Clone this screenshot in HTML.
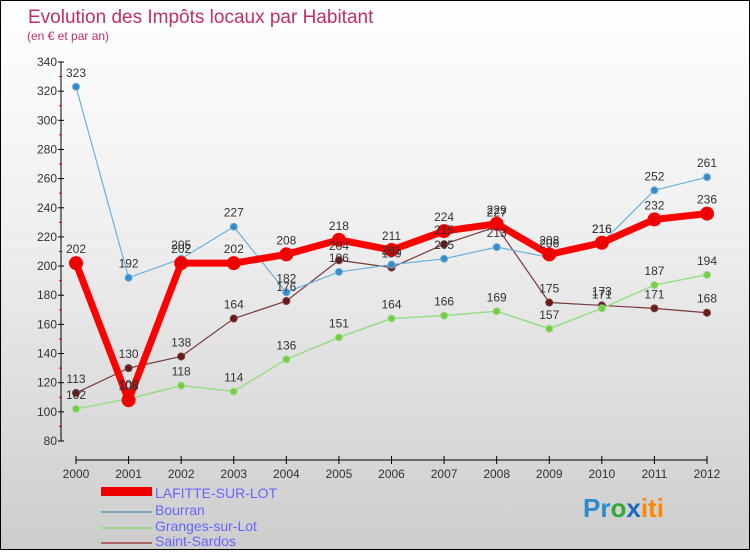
<!DOCTYPE html>
<html><head><meta charset="utf-8"><style>
body{margin:0;width:750px;height:550px;overflow:hidden;font-family:"Liberation Sans",sans-serif}
#c{position:absolute;left:0;top:0;width:748px;height:548px;border:1px solid #000;background:linear-gradient(#fff,#f0f0f0 40%,#cdcdcd)}
</style></head><body>
<div id="c">
<svg id="s" width="748" height="548">
<text x="27" y="22" font-size="19" fill="#c03060">Evolution des Impôts locaux par Habitant</text>
<text x="26" y="39" font-size="12" fill="#c03060">(en € et par an)</text>
<g id="ax"></g><g id="ser"></g><g id="lab"></g>
<g>
<rect x="100" y="486" width="51" height="9" fill="#e00"/>
<text x="154" y="497" font-size="14" fill="#66f">LAFITTE-SUR-LOT</text>
<rect x="100" y="510" width="51" height="2" fill="#7ab"/>
<text x="154" y="514" font-size="14" fill="#66f">Bourran</text>
<rect x="100" y="526" width="51" height="2" fill="#9d8"/>
<text x="154" y="530" font-size="14" fill="#66f">Granges-sur-Lot</text>
<rect x="100" y="541" width="51" height="2" fill="#a66"/>
<text x="154" y="545" font-size="14" fill="#66f">Saint-Sardos</text>
</g>
<text x="582" y="516" font-size="26" font-weight="bold"><tspan fill="#2a8ad0">Pr</tspan><tspan fill="#3a3">o</tspan><tspan fill="#1a6ac0">x</tspan><tspan fill="#f80">iti</tspan></text>
</svg></div>
<script>
const years=[2000,2001,2002,2003,2004,2005,2006,2007,2008,2009,2010,2011,2012];
const yTicks=[80,100,120,140,160,180,200,220,240,260,280,300,320,340];
const lafitte=[202,108,202,202,208,218,211,224,229,208,216,232,236];
const bourran=[323,192,205,227,182,196,201,205,213,206,216,252,261];
const granges=[102,109,118,114,136,151,164,166,169,157,171,187,194];
const sardos=[113,130,138,164,176,204,199,215,227,175,173,171,168];
const NS="http://www.w3.org/2000/svg";
const X=i=>75+i*(706-75)/12, Y=v=>440-(v-80)*(379/260);
function mk(p,t,a){const e=document.createElementNS(NS,t);for(const k in a)e.setAttribute(k,a[k]);p.appendChild(e);return e;}
const ax=document.getElementById('ax');
let e=mk(ax,'line',{x1:60,y1:61,x2:60,y2:440,stroke:'#000'});


e=mk(ax,'line',{x1:75,y1:459,x2:706,y2:459,stroke:'#000'});


yTicks.forEach((v,i)=>{
 mk(ax,'line',{x1:57,y1:Y(v),x2:63,y2:Y(v),stroke:'#000'});
 if(i<yTicks.length-1) mk(ax,'line',{x1:58,y1:Y(v+10),x2:61,y2:Y(v+10),stroke:'#e00'});
 const t=mk(ax,'text',{x:56,y:Y(v)+4,'font-size':12,fill:'#333','text-anchor':'end'});
 t.textContent=v;
 
 
});
years.forEach((y,i)=>{
 mk(ax,'line',{x1:X(i),y1:455,x2:X(i),y2:463,stroke:'#000'});
 const t=mk(ax,'text',{x:X(i),y:477,'font-size':12,fill:'#333','text-anchor':'middle'});
 t.textContent=y;
 
 
});
const ser=document.getElementById('ser'),lab=document.getElementById('lab');
function draw(d,name,col,dot,w,r){
 const g=mk(ser,'g',{});
 
 
 const pl=mk(g,'polyline',{points:d.map((v,i)=>X(i)+','+Y(v)).join(' '),fill:'none',stroke:col,'stroke-width':w,'stroke-linejoin':'round'});
 
 
 d.forEach((v,i)=>{
  const c=mk(g,'circle',{cx:X(i),cy:Y(v),r:r,fill:dot,stroke:col,'stroke-width':1});
  
  
  const t=mk(lab,'text',{x:X(i),y:Y(v)-10,'font-size':12,fill:'#333','text-anchor':'middle'});
  t.textContent=v;
  
  
 });
}
draw(sardos,'saint-sardos','#7a3a3a','#6a1a1a',1.2,3.5);
draw(granges,'granges','#9d8','#7c4',1.5,3.5);
draw(bourran,'bourran','#6ab0dd','#3a8acb',1.2,3.5);
draw(lafitte,'lafitte','#f00','#e00',7,6.5);
</script></body></html>
